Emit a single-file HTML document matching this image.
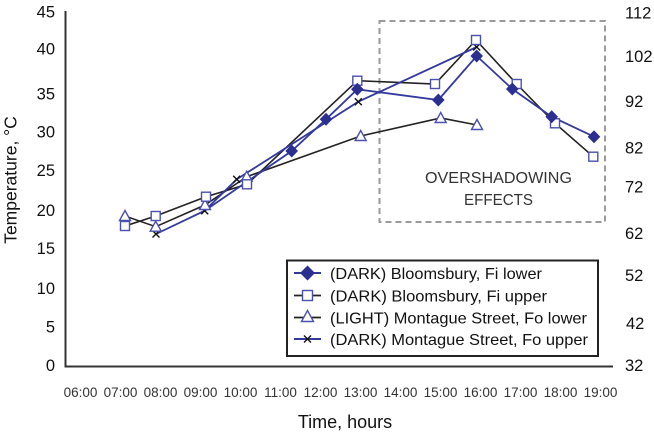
<!DOCTYPE html>
<html>
<head>
<meta charset="utf-8">
<style>
  html, body { margin: 0; padding: 0; background: #fff; }
  svg { display: block; font-family: "Liberation Sans", sans-serif; }
</style>
</head>
<body>
<svg width="654" height="432" viewBox="0 0 654 432" xmlns="http://www.w3.org/2000/svg">
  <rect width="654" height="432" fill="#fff"/>

  <!-- overshadowing dashed box -->
  <rect x="379.5" y="21" width="225.5" height="201" fill="none" stroke="#9a9a9a" stroke-width="2" stroke-dasharray="6 4"/>
  <text x="498.5" y="183" font-size="16" fill="#333" text-anchor="middle" textLength="147" lengthAdjust="spacingAndGlyphs">OVERSHADOWING</text>
  <text x="498.5" y="205" font-size="16" fill="#333" text-anchor="middle" textLength="69" lengthAdjust="spacingAndGlyphs">EFFECTS</text>

  <!-- axes -->
  <line x1="65.5" y1="11" x2="65.5" y2="367.5" stroke="#333" stroke-width="2"/>
  <line x1="64.5" y1="366.5" x2="613" y2="366.5" stroke="#333" stroke-width="2"/>

  <!-- left tick labels -->
  <g font-size="16.5" fill="#111" text-anchor="end">
    <text x="55" y="17.5">45</text>
    <text x="55" y="54.5">40</text>
    <text x="55" y="99.5">35</text>
    <text x="55" y="137.5">30</text>
    <text x="55" y="176">25</text>
    <text x="55" y="216">20</text>
    <text x="55" y="254">15</text>
    <text x="55" y="294">10</text>
    <text x="55" y="332.5">5</text>
    <text x="55" y="371">0</text>
  </g>

  <!-- right tick labels -->
  <g font-size="16.5" fill="#111" text-anchor="start">
    <text x="625" y="18.5">112</text>
    <text x="625" y="62">102</text>
    <text x="625" y="107">92</text>
    <text x="625" y="153.5">82</text>
    <text x="625" y="192.5">72</text>
    <text x="625" y="239">62</text>
    <text x="625" y="281">52</text>
    <text x="626" y="329">42</text>
    <text x="625" y="371">32</text>
  </g>

  <!-- x tick labels -->
  <g font-size="13.5" fill="#333" text-anchor="middle">
    <text x="80.5" y="397">06:00</text>
    <text x="120.5" y="397">07:00</text>
    <text x="160.5" y="397">08:00</text>
    <text x="200.5" y="397">09:00</text>
    <text x="240.5" y="397">10:00</text>
    <text x="280.5" y="397">11:00</text>
    <text x="320.5" y="397">12:00</text>
    <text x="360.5" y="397">13:00</text>
    <text x="400.5" y="397">14:00</text>
    <text x="440.5" y="397">15:00</text>
    <text x="480.5" y="397">16:00</text>
    <text x="520.5" y="397">17:00</text>
    <text x="560.5" y="397">18:00</text>
    <text x="600.5" y="397">19:00</text>
  </g>

  <!-- axis titles -->
  <text x="345" y="428" font-size="18" fill="#111" text-anchor="middle">Time, hours</text>
  <text transform="translate(16.5,180) rotate(-90)" font-size="17.5" fill="#111" text-anchor="middle">Temperature, °C</text>

  <!-- series lines -->
  <!-- square series: black line -->
  <polyline fill="none" stroke="#222" stroke-width="1.6" points="125,226 155.7,216 206,196.7 247,184.3 357.3,80.7 435,84 476,40 516.7,84 555,123.3 593.3,156.7"/>
  <!-- triangle series: black line -->
  <polyline fill="none" stroke="#222" stroke-width="1.6" points="125,216 155.7,226.7 205,205 246.7,176.7 360.7,136 440.7,118 477,125"/>
  <!-- x series: blue line -->
  <polyline fill="none" stroke="#343a9c" stroke-width="1.8" points="156,234 204.7,210.7 236.7,179.3 358.3,101.7 476.7,47"/>
  <!-- diamond series: blue line -->
  <polyline fill="none" stroke="#343a9c" stroke-width="1.8" points="204.7,210.7 291.7,151 326,119.3 357.3,89.3 438.3,100 476.7,56 512.3,89 551.7,116.7 594,136.7"/>

  <!-- markers: x -->
  <g stroke="#111" stroke-width="1.4">
    <path d="M152.5,230.5 l7,7 M159.5,230.5 l-7,7"/>
    <path d="M201.2,207.2 l7,7 M208.2,207.2 l-7,7"/>
    <path d="M233.2,175.8 l7,7 M240.2,175.8 l-7,7"/>
    <path d="M354.8,98.2 l7,7 M361.8,98.2 l-7,7"/>
    <path d="M473.2,43.5 l7,7 M480.2,43.5 l-7,7"/>
  </g>

  <!-- markers: triangles -->
  <g fill="#fff" stroke="#4a50ad" stroke-width="1.4">
    <polygon points="125,210.5 130.5,220.5 119.5,220.5"/>
    <polygon points="155.7,221.2 161.2,231.2 150.2,231.2"/>
    <polygon points="205,199.5 210.5,209.5 199.5,209.5"/>
    <polygon points="246.7,171.2 252.2,181.2 241.2,181.2"/>
    <polygon points="360.7,130.5 366.2,140.5 355.2,140.5"/>
    <polygon points="440.7,112.5 446.2,122.5 435.2,122.5"/>
    <polygon points="477,119.5 482.5,129.5 471.5,129.5"/>
  </g>

  <!-- markers: squares -->
  <g fill="#fff" stroke="#4a50ad" stroke-width="1.4">
    <rect x="120.5" y="221.5" width="9" height="9"/>
    <rect x="151.2" y="211.5" width="9" height="9"/>
    <rect x="201.5" y="192.2" width="9" height="9"/>
    <rect x="242.5" y="179.8" width="9" height="9"/>
    <rect x="352.8" y="76.2" width="9" height="9"/>
    <rect x="430.5" y="79.5" width="9" height="9"/>
    <rect x="471.5" y="35.5" width="9" height="9"/>
    <rect x="512.2" y="79.5" width="9" height="9"/>
    <rect x="550.5" y="118.8" width="9" height="9"/>
    <rect x="588.8" y="152.2" width="9" height="9"/>
  </g>

  <!-- markers: diamonds -->
  <g fill="#2b2f8f">
    <polygon points="291.7,144.5 298,151 291.7,157.5 285.4,151"/>
    <polygon points="326,112.8 332.3,119.3 326,125.8 319.7,119.3"/>
    <polygon points="357.3,82.8 363.6,89.3 357.3,95.8 351,89.3"/>
    <polygon points="438.3,93.5 444.6,100 438.3,106.5 432,100"/>
    <polygon points="476.7,49.5 483,56 476.7,62.5 470.4,56"/>
    <polygon points="512.3,82.5 518.6,89 512.3,95.5 506,89"/>
    <polygon points="551.7,110.2 558,116.7 551.7,123.2 545.4,116.7"/>
    <polygon points="594,130.2 600.3,136.7 594,143.2 587.7,136.7"/>
  </g>

  <!-- legend -->
  <rect x="287" y="260.5" width="311" height="95.5" fill="#fff" stroke="#222" stroke-width="2"/>
  <!-- row 1 diamond -->
  <line x1="294" y1="273" x2="321" y2="273" stroke="#343a9c" stroke-width="2"/>
  <polygon points="307.5,265.5 315,273 307.5,280.5 300,273" fill="#2b2f8f"/>
  <!-- row 2 square -->
  <line x1="294" y1="295.5" x2="321" y2="295.5" stroke="#222" stroke-width="1.8"/>
  <rect x="302.5" y="290.5" width="10" height="10" fill="#fff" stroke="#4a50ad" stroke-width="1.4"/>
  <!-- row 3 triangle -->
  <line x1="294" y1="317.5" x2="321" y2="317.5" stroke="#222" stroke-width="1.8"/>
  <polygon points="307.5,310.5 313.5,321.5 301.5,321.5" fill="#fff" stroke="#4a50ad" stroke-width="1.4"/>
  <!-- row 4 x -->
  <line x1="294" y1="339" x2="321" y2="339" stroke="#343a9c" stroke-width="2"/>
  <path d="M304,335.5 l7,7 M311,335.5 l-7,7" stroke="#111" stroke-width="1.4"/>

  <g font-size="16" fill="#111">
    <text x="330" y="279" textLength="212" lengthAdjust="spacingAndGlyphs">(DARK) Bloomsbury, Fi lower</text>
    <text x="330" y="301.5" textLength="217" lengthAdjust="spacingAndGlyphs">(DARK) Bloomsbury, Fi upper</text>
    <text x="330" y="323.5" textLength="257" lengthAdjust="spacingAndGlyphs">(LIGHT) Montague Street, Fo lower</text>
    <text x="330" y="345" textLength="258" lengthAdjust="spacingAndGlyphs">(DARK) Montague Street, Fo upper</text>
  </g>
</svg>
</body>
</html>
